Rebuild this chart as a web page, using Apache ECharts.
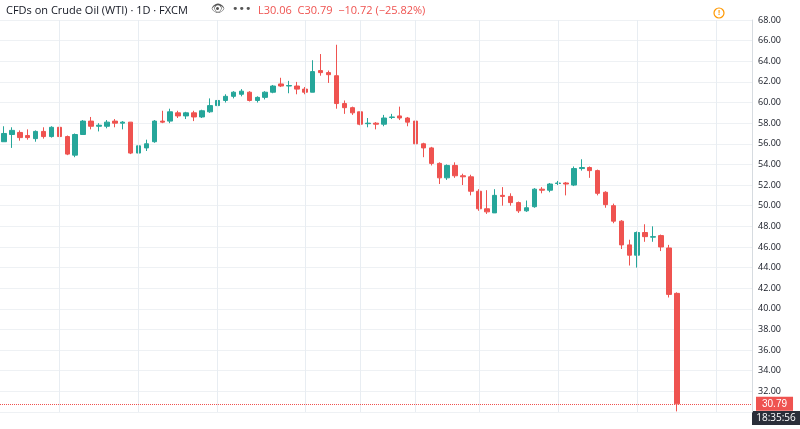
<!DOCTYPE html>
<html>
<head>
<meta charset="utf-8">
<script src="https://cdn.jsdelivr.net/npm/echarts@6/dist/echarts.min.js"></script>
<style>
  html, body { margin: 0; padding: 0; background: #fff; }
  #main { width: 800px; height: 429px; }
</style>
</head>
<body>
<div id="main"></div>
<script>
// OHLC: [open, close, low, high]
var candles = [
  [56.2, 57.0, 56.2, 57.7], [56.9, 57.3, 55.6, 57.6], [57.1, 56.6, 56.3, 57.3], [56.8, 56.6, 56.4, 57.4],
  [56.5, 57.2, 56.2, 57.3], [57.2, 56.7, 56.5, 57.6], [56.7, 57.6, 56.6, 57.7], [57.6, 56.7, 56.5, 57.9],
  [56.7, 55.0, 54.9, 56.8], [54.9, 56.9, 54.7, 57.0], [56.9, 58.2, 56.9, 58.3], [58.2, 57.7, 57.4, 58.6],
  [57.7, 57.8, 57.2, 58.0], [57.7, 58.1, 57.5, 58.3], [58.2, 58.0, 57.6, 58.4], [58.0, 58.1, 57.4, 58.2],
  [58.1, 55.1, 55.0, 58.1], [55.1, 55.8, 54.9, 56.1], [55.6, 56.0, 55.3, 56.4], [56.2, 58.2, 56.1, 58.3],
  [58.2, 58.1, 58.0, 59.2], [58.2, 59.1, 58.0, 59.4], [59.0, 58.7, 58.5, 59.2], [58.7, 59.0, 58.4, 59.1],
  [59.0, 58.6, 58.2, 59.2], [58.6, 59.2, 58.5, 59.3], [59.1, 59.7, 59.0, 60.4], [59.7, 60.2, 59.6, 60.6],
  [60.2, 60.6, 60.0, 60.8], [60.6, 61.0, 60.4, 61.1], [60.8, 61.1, 60.6, 61.3], [61.0, 60.2, 60.1, 61.1],
  [60.2, 60.5, 60.0, 60.6], [60.5, 61.0, 60.3, 61.1], [61.0, 61.6, 60.9, 61.7], [61.8, 61.6, 61.5, 62.4],
  [61.6, 61.65, 60.9, 62.1], [61.6, 61.3, 60.8, 62.0], [61.3, 61.0, 60.8, 61.5], [61.0, 63.0, 61.0, 64.1],
  [63.1, 62.9, 62.6, 64.7], [62.9, 62.7, 61.9, 63.1], [62.6, 59.9, 59.4, 65.6], [59.9, 59.5, 58.9, 60.2],
  [59.5, 59.0, 58.8, 59.6], [59.1, 57.9, 57.8, 59.1], [57.95, 58.0, 57.6, 58.5], [58.0, 57.9, 57.4, 58.1],
  [57.9, 58.5, 57.7, 58.8], [58.55, 58.6, 58.4, 58.9], [58.7, 58.5, 58.3, 59.6], [58.5, 58.1, 57.7, 58.6],
  [58.2, 56.0, 56.0, 58.3], [56.0, 55.6, 54.7, 56.1], [55.6, 54.1, 53.9, 55.7], [54.1, 52.7, 52.1, 54.2],
  [52.7, 53.9, 52.5, 54.0], [53.9, 52.9, 52.7, 54.2], [52.9, 52.8, 52.0, 53.1], [52.8, 51.4, 51.0, 53.0],
  [51.4, 49.7, 49.5, 51.6], [49.7, 49.4, 49.2, 51.5], [49.3, 51.0, 49.3, 51.6], [51.0, 50.9, 50.0, 51.8],
  [50.9, 50.3, 50.0, 51.2], [50.3, 49.5, 49.3, 50.4], [49.5, 49.8, 49.4, 50.5], [49.9, 51.6, 49.8, 51.7],
  [51.6, 51.5, 51.2, 51.8], [51.5, 52.1, 51.3, 52.2], [52.15, 52.2, 52.0, 52.4], [52.2, 52.1, 51.0, 52.3],
  [52.0, 53.6, 51.9, 53.8], [53.6, 53.7, 53.4, 54.5], [53.7, 53.4, 52.7, 53.8], [53.4, 51.2, 51.0, 53.5],
  [51.3, 50.1, 49.8, 51.4], [50.0, 48.5, 48.3, 50.2], [48.5, 46.2, 45.8, 48.6], [46.2, 45.2, 44.2, 46.7],
  [45.2, 47.4, 44.0, 47.5], [47.4, 47.0, 46.5, 48.2], [46.95, 47.0, 46.5, 48.0], [47.1, 46.0, 45.6, 47.2],
  [45.9, 41.4, 41.1, 46.2], [41.5, 30.79, 30.06, 41.6]
];
var emptySlots = 9;
var gridIndices = [7, 17, 27, 38, 45, 52, 60, 70, 80, 90];
var yTicks = [32, 34, 36, 38, 40, 42, 44, 46, 48, 50, 52, 54, 56, 58, 60, 62, 64, 66, 68];
var lastClose = 30.79;

var categories = [];
for (var i = 0; i < candles.length + emptySlots; i++) categories.push(i);

var upColor = '#26a69a';
var downColor = '#ef5350';

var myChart = echarts.init(document.getElementById('main'));
var option = {
  animation: false,
  grid: { left: 0, right: 48, top: 20, bottom: 17 },
  graphic: [
    { type: 'text', left: 6, top: 5, style: { text: 'CFDs on Crude Oil (WTI) · 1D · FXCM', fill: '#131722', font: '11px "Open Sans", sans-serif' } },
    { type: 'text', left: 211, top: 4, style: { text: '👁  •••', fill: '#555', font: '11px "DejaVu Sans", sans-serif' } },
    { type: 'text', left: 258, top: 5, style: { text: 'L30.06  C30.79  −10.72 (−25.82%)', fill: '#ef5350', font: '11px "Open Sans", sans-serif' } },
    { type: 'circle', shape: { cx: 719, cy: 13, r: 5 }, style: { fill: 'none', stroke: '#ff9800', lineWidth: 1.2 } },
    { type: 'text', x: 719, y: 13, style: { text: '!', fill: '#ff9800', font: 'bold 8px sans-serif', align: 'center', verticalAlign: 'middle' } },
    { type: 'rect', shape: { x: 752, y: 412, width: 48, height: 17 }, style: { fill: '#fff' } },
    { type: 'rect', shape: { x: 752, y: 411, width: 48, height: 14 }, style: { fill: '#2a2e39' } },
    { type: 'text', x: 776, y: 418, style: { text: '18:35:56', fill: '#fff', font: '10px "Open Sans", sans-serif', align: 'center', verticalAlign: 'middle' } }
  ],
  xAxis: {
    type: 'category',
    data: categories,
    boundaryGap: true,
    axisLine: { show: false },
    axisTick: { show: false },
    axisLabel: { show: false },
    splitLine: { show: false }
  },
  yAxis: {
    type: 'value',
    position: 'right',
    min: 30,
    max: 68,
    interval: 2,
    axisLine: { show: true, lineStyle: { color: '#d6dbe0' } },
    axisTick: { show: false },
    axisLabel: {
      color: '#131722',
      fontSize: 9,
      margin: 6,
      fontFamily: 'Open Sans',
      formatter: function (v) { return yTicks.indexOf(v) >= 0 ? v.toFixed(2) : ''; }
    },
    splitLine: { lineStyle: { color: '#eef1f4' } }
  },
  series: [{
    type: 'line',
    data: [],
    silent: true,
    markLine: {
      symbol: 'none',
      silent: true,
      label: { show: false },
      lineStyle: { color: '#e8edf2', type: 'solid', width: 1 },
      data: gridIndices.map(function (idx) { return { xAxis: idx }; })
    }
  }, {
    type: 'candlestick',
    data: candles,
    barWidth: 5,
    itemStyle: {
      color: upColor, color0: downColor,
      borderColor: upColor, borderColor0: downColor,
      borderWidth: 1
    },
    markLine: {
      symbol: 'none',
      silent: true,
      data: [{ yAxis: lastClose }],
      lineStyle: { color: downColor, type: 'dotted', width: 1 },
      label: {
        position: 'end',
        formatter: lastClose.toFixed(2),
        backgroundColor: downColor,
        color: '#fff',
        fontSize: 10,
        padding: [2, 6],
        distance: 4
      }
    }
  }]
};
myChart.setOption(option);
</script>
</body>
</html>
